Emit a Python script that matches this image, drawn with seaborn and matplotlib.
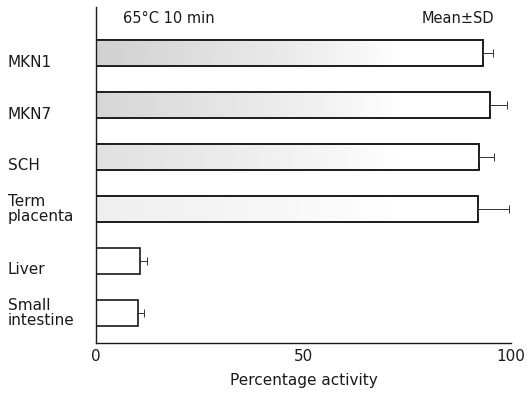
import numpy as np
import pandas as pd
import matplotlib
matplotlib.use("Agg")
import matplotlib.pyplot as plt
import matplotlib.transforms as mtransforms
import seaborn as sns

# values
tissues = ["MKN1", "MKN7", "SCH", "Term\nplacenta", "Liver", "Small\nintestine"]
activity = [93.3, 94.9, 92.4, 92.0, 10.7, 10.0]
sd = [2.4, 4.1, 3.5, 7.5, 1.7, 1.6]
shade = [0.45, 0.40, 0.30, 0.16, 0.0, 0.0]  # stipple strength per bar

df = pd.DataFrame({"tissue": tissues, "activity": activity})

sns.set_style("white")
plt.rcParams["font.family"] = ["DejaVu Sans"]

fig = plt.figure(figsize=(5.29, 3.97), dpi=100)
ax = fig.add_axes([0.1815, 0.136, 0.7845, 0.846])

sns.barplot(data=df, x="activity", y="tissue", orient="h", ax=ax,
            color="white", edgecolor="#1a1a1a", linewidth=1.2, width=0.5,
            errorbar=None, saturation=1)

# faded grey fill, dark at the left, gone by about 70 %
xs = np.linspace(0, 100, 256)
grad = np.clip(1 - xs / 72, 0, 1) ** 0.8
for patch, s in zip(ax.patches, shade):
    if s <= 0:
        continue
    rgba = np.ones((1, 256, 4))
    rgba[..., :3] = 0.6
    rgba[..., 3] = s * grad
    im = ax.imshow(rgba, extent=[0, 100, patch.get_y() + patch.get_height(), patch.get_y()],
                   aspect="auto", zorder=patch.get_zorder() + 0.1, interpolation="bilinear")
    im.set_clip_path(patch)
    # redraw edge on top
    ax.add_patch(plt.Rectangle((patch.get_x(), patch.get_y()), patch.get_width(), patch.get_height(),
                               fill=False, edgecolor="#1a1a1a", linewidth=1.2, zorder=patch.get_zorder() + 0.2))

ypos = np.arange(len(tissues))
ax.errorbar(activity, ypos, xerr=[np.zeros(len(sd)), sd], fmt="none",
            ecolor="#333333", elinewidth=0.7, capsize=3, capthick=0.7, zorder=5)

ax.set_xlim(0, 100)
ax.set_ylim(5.58, -0.89)
ax.set_aspect("auto")
ax.set_xticks([0, 50, 100])
ax.tick_params(axis="x", direction="in", length=3, width=0.8, labelsize=11, pad=4, colors="#1a1a1a")
ax.tick_params(axis="y", length=0)
ax.set_yticks([])
ax.set_ylabel("")
ax.set_xlabel("Percentage activity", fontsize=11, labelpad=7, color="#1a1a1a")
for side in ["top", "right"]:
    ax.spines[side].set_visible(False)
for side in ["left", "bottom"]:
    ax.spines[side].set_linewidth(1.0)
    ax.spines[side].set_color("#1a1a1a")

# category labels, left aligned at the figure edge
trans = mtransforms.blended_transform_factory(fig.transFigure, ax.transData)
for i, name in enumerate(tissues):
    dy = 0.0 if "\n" in name else 0.17
    ax.text(0.015, i + dy, name, transform=trans, ha="left", va="center",
            fontsize=11, linespacing=1.05, color="#1a1a1a")

ax.text(0.065, 0.965, "65°C 10 min", transform=ax.transAxes, ha="left", va="center",
        fontsize=10.5, color="#1a1a1a")
ax.text(0.96, 0.965, "Mean±SD", transform=ax.transAxes, ha="right", va="center",
        fontsize=10.5, color="#1a1a1a")

fig.savefig("out.png", dpi=100)
